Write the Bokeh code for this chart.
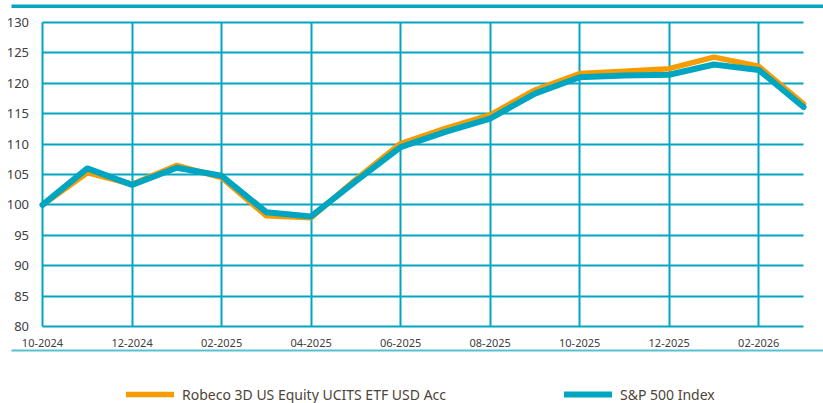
from bokeh.plotting import figure
from bokeh.models import (FixedTicker, BoxAnnotation, Legend, LegendItem,
                          ColumnDataSource, Range1d)
from bokeh.core.properties import value
from bokeh.embed import file_html
from bokeh.resources import INLINE

# ---------------- data ----------------
months = ["10-2024", "11-2024", "12-2024", "01-2025", "02-2025", "03-2025",
          "04-2025", "05-2025", "06-2025", "07-2025", "08-2025", "09-2025",
          "10-2025", "11-2025", "12-2025", "01-2026", "02-2026", "03-2026"]
robeco = [100.0, 105.3, 103.4, 106.5, 104.5, 98.2, 97.9, 104.2, 110.1, 112.6,
          114.8, 118.9, 121.6, 122.0, 122.4, 124.3, 122.8, 116.6]
sp500 = [100.0, 106.0, 103.3, 106.1, 104.8, 98.8, 98.1, 103.9, 109.5, 112.0,
         114.2, 118.3, 121.0, 121.3, 121.4, 123.1, 122.2, 116.1]
y_ticks = [80, 85, 90, 95, 100, 105, 110, 115, 120, 125, 130]
series_names = ["Robeco 3D US Equity UCITS ETF USD Acc", "S&P 500 Index"]

# ---------------- style / layout ----------------
TEAL = "#00a6c1"
LIGHT_TEAL = "#55c1d3"
ORANGE = "#f59c00"
TICK_COLOR = "#404040"
LEGEND_COLOR = "#4d4338"
FONT = "Noto Sans"
W, H = 823, 403
PLOT_L, PLOT_R, PLOT_T, PLOT_B = 42, 803, 22, 326   # pixel box of the chart area

x = list(range(len(months)))
x_ticks = x[::2]
x_tick_labels = [months[i] for i in x_ticks]

# ranges chosen so that the data box lands on the chart area
ppx = (PLOT_R - PLOT_L) / (x[-1] - x[0])
ppy = (PLOT_B - PLOT_T) / (y_ticks[-1] - y_ticks[0])
x_range = Range1d(x[0] - PLOT_L / ppx, x[-1] + (W - PLOT_R) / ppx)
y_range = Range1d(y_ticks[0] - (H - PLOT_B) / ppy, y_ticks[-1] + PLOT_T / ppy)

p = figure(width=W, height=H, output_backend="svg", toolbar_location=None,
           x_range=x_range, y_range=y_range,
           x_axis_location=None, y_axis_location=None, min_border=0)
p.outline_line_color = None

# grid
p.xgrid.ticker = FixedTicker(ticks=x_ticks)
p.ygrid.ticker = FixedTicker(ticks=y_ticks)
for g in (p.xgrid, p.ygrid):
    g.grid_line_color = TEAL
    g.grid_line_width = 2
p.xgrid.cross_bounds = (y_ticks[0], y_ticks[-1])
p.ygrid.cross_bounds = (x[0], x[-1])

# tick labels
p.text(x=[x[0]] * len(y_ticks), y=y_ticks, text=[str(v) for v in y_ticks],
       x_offset=-13.5, text_align="right", text_baseline="middle",
       text_font=value(FONT), text_font_size=value("13px"), text_color=TICK_COLOR)
p.text(x=x_ticks, y=[y_ticks[0]] * len(x_ticks), text=x_tick_labels,
       y_offset=16.5, text_align="center", text_baseline="middle",
       text_font=value(FONT), text_font_size=value("11px"), text_color=TICK_COLOR)

# lines
src = ColumnDataSource(dict(x=x, robeco=robeco, sp500=sp500))
r1 = p.line("x", "robeco", source=src, line_color=ORANGE, line_width=5.5,
            line_join="round", line_cap="round")
r2 = p.line("x", "sp500", source=src, line_color=TEAL, line_width=6,
            line_join="round", line_cap="round")

# decorative rules above and below the chart
p.add_layout(BoxAnnotation(left=11, right=W, top=H - 4, bottom=H - 7.5,
                           left_units="screen", right_units="screen",
                           top_units="screen", bottom_units="screen",
                           fill_color=TEAL, fill_alpha=1, line_color=None))
p.add_layout(BoxAnnotation(left=11, right=W, top=H - 349, bottom=H - 351,
                           left_units="screen", right_units="screen",
                           top_units="screen", bottom_units="screen",
                           fill_color=LIGHT_TEAL, fill_alpha=1, line_color=None))

# legends
for name, rend, left in ((series_names[0], r1, 126), (series_names[1], r2, 564)):
    lg = Legend(items=[LegendItem(label=name, renderers=[rend])],
                location=(left, -0.5), orientation="horizontal",
                glyph_width=48, glyph_height=14, label_height=14,
                label_standoff=8, padding=0, margin=0, spacing=0,
                border_line_color=None, background_fill_alpha=0,
                label_text_font=FONT, label_text_font_size="14px",
                label_text_color=LEGEND_COLOR)
    p.add_layout(lg, "center")

open("out.html", "w").write(file_html(p, INLINE))
